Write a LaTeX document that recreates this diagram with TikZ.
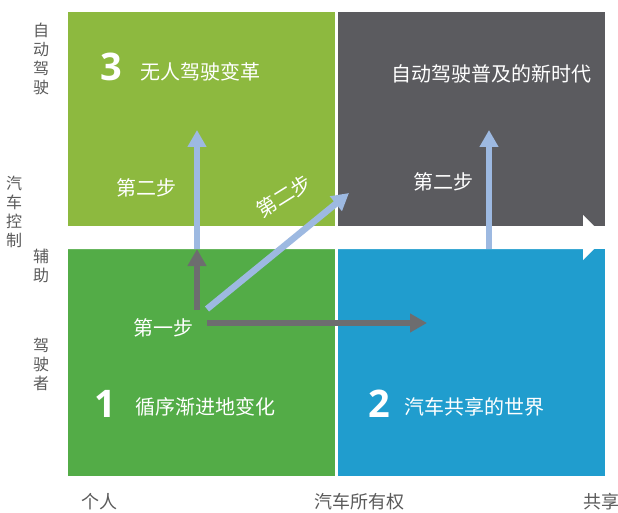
\documentclass[tikz,border=0pt]{standalone}
\usepackage{fontspec}
\setmainfont{Noto Sans CJK SC}
\newfontfamily\numfont{Open Sans}
\usetikzlibrary{arrows.meta}
\definecolor{qgreenA}{HTML}{8DB93F}
\definecolor{qgray}{HTML}{5B5B5F}
\definecolor{qgreenB}{HTML}{53AC47}
\definecolor{qblue}{HTML}{209DCE}
\definecolor{lblue}{HTML}{9DB9E1}
\definecolor{darr}{HTML}{6D6D6F}
\definecolor{axtext}{HTML}{5A5A5A}
\begin{document}
\begin{tikzpicture}[x=1pt,y=-1pt,
  quad/.style={draw=none,inner sep=0pt,outer sep=0pt,anchor=north west,minimum width=267pt},
  qtext/.style={text=white,inner sep=0pt,font=\fontsize{20}{22}\selectfont},
  numtext/.style={text=white,inner sep=0pt,font=\fontsize{38}{40}\numfont\bfseries},
  sidetext/.style={text=axtext,inner sep=0pt,align=center,font=\fontsize{16}{19}\selectfont},
  bottext/.style={text=axtext,inner sep=0pt,font=\fontsize{18}{20}\selectfont},
  bluearrow/.style={draw=lblue,line width=6.5pt,-{Triangle[width=18pt,length=17pt]}},
  grayarrow/.style={draw=darr,line width=6.5pt,-{Triangle[width=18pt,length=17pt]}}]
\useasboundingbox (0,0) rectangle (618,513);
% quadrants
\node[quad,fill=qgreenA,minimum height=214pt] (q3) at (68,12) {};
\node[quad,fill=qgray,minimum height=214pt] (q4) at (338,12) {};
\node[quad,fill=qgreenB,minimum height=227pt] (q1) at (68,249) {};
\node[quad,fill=qblue,minimum height=227pt] (q2) at (338,249) {};
% big white arrow
\fill[white] (68,226) -- (583,226) -- (583,215) -- (606,237.5) -- (583,260) -- (583,249) -- (68,249) -- cycle;
% quadrant titles
\node[numtext] (n3) at (111,67) {3};
\node[qtext] (t3) at (200,72) {无人驾驶变革};
\node[qtext] (t4) at (491,74) {自动驾驶普及的新时代};
\node[numtext] (n1) at (105,404) {1};
\node[qtext] (t1) at (205,407) {循序渐进地变化};
\node[numtext] (n2) at (379,404) {2};
\node[qtext] (t2) at (474,407) {汽车共享的世界};
% step labels
\node[qtext] (s2a) at (146,188) {第二步};
\node[qtext,rotate=32] (s2b) at (284,196) {第二步};
\node[qtext] (s2c) at (443,182) {第二步};
\node[qtext] (s1) at (163,328) {第一步};
% arrows
\coordinate (g0) at (197,310);
\coordinate (g1) at (197,249);
\coordinate (b1) at (197,130);
\coordinate (d0) at (207,309);
\coordinate (d1) at (349,193);
\coordinate (h0) at (207,323);
\coordinate (h1) at (427,323);
\coordinate (r0) at (489,249);
\coordinate (r1) at (489,130);
\draw[bluearrow] (g1) -- (b1);
\draw[grayarrow] (g0) -- (g1);
\draw[bluearrow] (d0) -- (d1);
\draw[grayarrow] (h0) -- (h1);
\draw[bluearrow] (r0) -- (r1);
% side labels
\node[sidetext] (l1) at (41,59) {自\\动\\驾\\驶};
\node[sidetext] (l2) at (14,212) {汽\\车\\控\\制};
\node[sidetext] (l3) at (41,266) {辅\\助};
\node[sidetext] (l4) at (41,364) {驾\\驶\\者};
% bottom labels
\node[bottext] (x1) at (99,502) {个人};
\node[bottext] (x2) at (359,502) {汽车所有权};
\node[bottext] (x3) at (601,502) {共享};
\end{tikzpicture}
\end{document}
